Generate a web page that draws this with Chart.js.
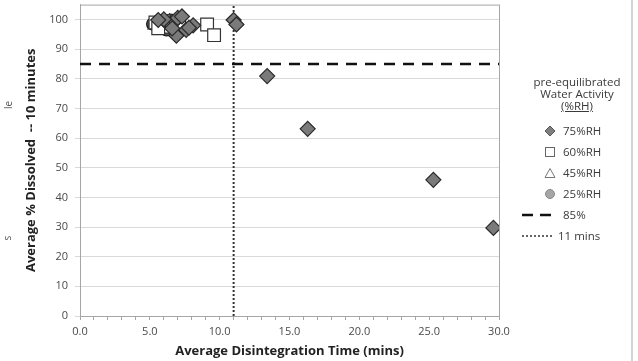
<!DOCTYPE html>
<html>
<head>
<meta charset="utf-8">
<script src="https://cdn.jsdelivr.net/npm/chart.js@4.4.1/dist/chart.umd.min.js"></script>
<style>
  html, body { margin: 0; padding: 0; background: #fff; }
  #wrap { position: relative; width: 638px; height: 361px; overflow: hidden; font-family: "Open Sans", "Noto Sans", sans-serif; }
  #chart { position: absolute; left: 0; top: -9px; }
  .stray { position: absolute; font-size: 10px; color: #555; transform: rotate(-90deg); transform-origin: center; }
  #edge { position: absolute; left: 631px; top: 0; width: 2px; height: 361px; background: #d4d4d4; }
  #legend { position: absolute; left: 512px; top: 76px; width: 130px; font-size: 11.5px; color: #3a3a3a; }
  #legend .ttl { text-align: center; width: 130px; line-height: 12px; }
  #legend .row { position: absolute; left: 0; height: 14px; line-height: 14px; }
  #legend svg { position: absolute; top: 0; }
  #legend span.lab { position: absolute; white-space: nowrap; }
</style>
</head>
<body>
<div id="wrap">
  <canvas id="chart" width="638" height="370"></canvas>
  <div class="stray" style="left:4px; top:98px;">le</div>
  <div class="stray" style="left:5px; top:231px;">s</div>
  <div id="edge"></div>
  <div id="legend"></div>
</div>
<script>
// Scatter data: [disintegration time (mins), % dissolved]
const rh75 = [[6.2, 99], [6.5, 98.5], [6.8, 99.5], [7.0, 100.5], [7.3, 101], [6.9, 94.5], [7.6, 96.5],
  [8.1, 98], [7.8, 97.2], [6.6, 97], [6.0, 100], [5.6, 99.8], [11.0, 99.8], [11.2, 98.3], [13.4, 80.9],
  [16.3, 63.1], [25.3, 45.9], [29.6, 29.7]];
const rh60 = [[5.4, 99], [5.8, 98], [6.0, 99.5], [6.3, 97.5], [5.6, 97], [6.6, 99], [7.1, 98.2], [9.1, 98.3], [9.6, 94.7]];
const rh45 = [[5.3, 98], [5.7, 99], [6.1, 98.5], [6.4, 99.5], [5.9, 97], [6.7, 98], [6.3, 96.5]];
const rh25 = [[5.2, 98.5], [5.5, 97.5], [6.0, 98], [6.2, 96.5], [6.7, 98.5], [5.8, 99.5], [6.4, 98.8],
  [5.9, 98.6], [6.5, 99.8], [6.1, 99.2], [6.8, 97.5], [6.3, 98.2], [6.0, 97.6], [6.6, 98.0], [6.2, 99.6]];
const dissolvedLimit = 85;   // % dissolved reference line
const timeLimit = 11;        // mins reference line
const xRange = [0, 30];
const yRange = [0, 105];

const toPts = arr => arr.map(p => ({ x: p[0], y: p[1] }));

const tickColor = '#4a4a4a';
const gridColor = '#d9d9d9';

// draw the plot box (top/right edges)
const plotBox = {
  id: 'plotBox',
  beforeDatasetsDraw(chart) {
    const { ctx, chartArea: a } = chart;
    ctx.save();
    ctx.strokeStyle = '#a6a6a6';
    ctx.lineWidth = 1;
    ctx.strokeRect(a.left + 0.5, a.top + 0.5, a.right - a.left, a.bottom - a.top);
    ctx.restore();
  }
};

new Chart(document.getElementById('chart'), {
  type: 'scatter',
  data: {
    datasets: [
      {
        label: '85%', type: 'line',
        data: [{ x: xRange[0], y: dissolvedLimit }, { x: xRange[1], y: dissolvedLimit }],
        borderColor: '#111', borderWidth: 2.5, borderDash: [11, 8], pointRadius: 0, fill: false, order: 5
      },
      {
        label: '11 mins', type: 'line',
        data: [{ x: timeLimit, y: yRange[0] }, { x: timeLimit, y: yRange[1] }],
        borderColor: '#333', borderWidth: 2, borderDash: [2, 2], pointRadius: 0, fill: false, order: 5
      },
      {
        label: '25%RH', data: toPts(rh25), pointStyle: 'circle', pointRadius: 6,
        backgroundColor: '#555', borderColor: '#111', borderWidth: 1.2, order: 4
      },
      {
        label: '45%RH', data: toPts(rh45), pointStyle: 'triangle', pointRadius: 7,
        backgroundColor: '#fff', borderColor: '#222', borderWidth: 1.2, order: 3
      },
      {
        label: '60%RH', data: toPts(rh60), pointStyle: 'rect', pointRadius: 9,
        backgroundColor: '#fff', borderColor: '#333', borderWidth: 1.2, order: 2
      },
      {
        label: '75%RH', data: toPts(rh75), pointStyle: 'rectRot', pointRadius: 7.5,
        backgroundColor: '#7a7a7a', borderColor: '#2a2a2a', borderWidth: 1.2, order: 1
      }
    ]
  },
  options: {
    responsive: false,
    animation: false,
    layout: { padding: { left: 20, top: 1, right: 139, bottom: 0 } },
    plugins: { legend: { display: false }, tooltip: { enabled: false } },
    scales: {
      x: {
        type: 'linear', min: xRange[0], max: xRange[1],
        afterFit: s => { s.height = 45; },
        ticks: {
          stepSize: 1, autoSkip: false, maxRotation: 0, color: tickColor, padding: 5,
          font: { family: '"Open Sans", sans-serif', size: 11 },
          callback: v => (v % 5 === 0 ? v.toFixed(1) : '')
        },
        grid: { drawOnChartArea: false, tickLength: 4, color: '#a6a6a6' },
        border: { color: '#a6a6a6' },
        title: {
          display: true, text: 'Average Disintegration Time (mins)', color: '#222',
          font: { family: '"Open Sans", sans-serif', size: 13, weight: 'bold' }, padding: { top: 0, bottom: 2 }
        }
      },
      y: {
        type: 'linear', min: yRange[0], max: yRange[1],
        afterFit: s => { s.width = 60; },
        ticks: {
          stepSize: 10, includeBounds: false, color: tickColor, padding: 7,
          font: { family: '"Open Sans", sans-serif', size: 11 }
        },
        grid: { color: gridColor, tickLength: 5 },
        border: { color: '#a6a6a6' },
        title: {
          display: true, text: 'Average % Dissolved  -- 10 minutes', color: '#222',
          font: { family: '"Open Sans", sans-serif', size: 13, weight: 'bold' }, padding: { top: 3, bottom: 0 }
        }
      }
    }
  },
  plugins: [plotBox]
});

// legend in HTML
const legendItems = [
  { text: '75%RH', svg: '<polygon points="6,1 11,6 6,11 1,6" fill="#7f7f7f" stroke="#555" stroke-width="1"/>' },
  { text: '60%RH', svg: '<rect x="1.5" y="1.5" width="9" height="9" fill="#fff" stroke="#666" stroke-width="1"/>' },
  { text: '45%RH', svg: '<polygon points="6,1.5 11,10.5 1,10.5" fill="#fff" stroke="#777" stroke-width="1"/>' },
  { text: '25%RH', svg: '<circle cx="6" cy="6" r="4.5" fill="#a6a6a6" stroke="#888" stroke-width="1"/>' },
  { text: '85%', line: 'dash' },
  { text: '11 mins', line: 'dot' }
];
const legend = document.getElementById('legend');
legend.innerHTML = '<div class="ttl">pre-equilibrated<br>Water Activity<br><u>(%RH)</u></div>';
legendItems.forEach((it, i) => {
  const row = document.createElement('div');
  row.className = 'row';
  row.style.top = (48 + i * 21) + 'px';
  if (it.line === 'dash') {
    row.innerHTML = '<svg width="40" height="14" style="left:10px"><line x1="0" y1="7" x2="32" y2="7" stroke="#111" stroke-width="2.5" stroke-dasharray="11,7"/></svg>' +
      '<span class="lab" style="left:51px">' + it.text + '</span>';
  } else if (it.line === 'dot') {
    row.innerHTML = '<svg width="40" height="14" style="left:10px"><line x1="0" y1="7" x2="32" y2="7" stroke="#333" stroke-width="1.5" stroke-dasharray="2,2"/></svg>' +
      '<span class="lab" style="left:46px">' + it.text + '</span>';
  } else {
    row.innerHTML = '<svg width="12" height="12" style="left:32px; top:1px">' + it.svg + '</svg>' +
      '<span class="lab" style="left:51px">' + it.text + '</span>';
  }
  legend.appendChild(row);
});
</script>
</body>
</html>
